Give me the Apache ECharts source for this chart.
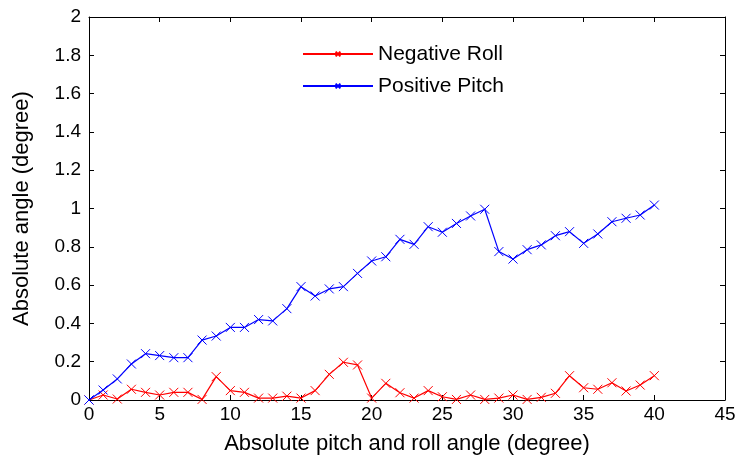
<!DOCTYPE html>
<html>
<head>
<meta charset="utf-8">
<script src="https://cdn.jsdelivr.net/npm/echarts@6/dist/echarts.min.js"></script>
<style>
  html, body { margin: 0; padding: 0; background: #fff; }
  #chart { width: 740px; height: 466px; }
</style>
</head>
<body>
<div id="chart"></div>
<script>
// Tilt angles (degree) at which the device was measured
const tiltAngles = [0,1,2,3,4,5,6,7,8,9,10,11,12,13,14,15,16,17,18,19,20,
  21,22,23,24,25,26,27,28,29,30,31,32,33,34,35,36,37,38,39,40];

// Absolute angle error (degree) for each tilt
const negativeRoll = [0,0.026,0.005,0.056,0.04,0.026,0.04,0.04,0.003,0.122,0.049,
  0.04,0.01,0.01,0.02,0.01,0.049,0.134,0.197,0.183,0.01,
  0.087,0.038,0.01,0.049,0.017,0.003,0.026,0.003,0.01,0.026,
  0.003,0.014,0.035,0.127,0.064,0.056,0.09,0.047,0.078,0.127];

const positivePitch = [0,0.052,0.11,0.188,0.242,0.232,0.221,0.221,0.313,0.334,0.379,
  0.379,0.42,0.413,0.477,0.592,0.543,0.58,0.592,0.661,0.726,
  0.748,0.839,0.813,0.905,0.876,0.922,0.961,0.996,0.775,0.736,
  0.785,0.81,0.858,0.879,0.818,0.867,0.931,0.949,0.966,1.018];

const seriesNames = ['Negative Roll', 'Positive Pitch'];
const seriesColors = ['#ff0000', '#0000ff'];

const crossMark = 'path://M0,0L10,10M10,0L0,10';
const font = 'Liberation Sans, Arial, sans-serif';

function toPairs(xs, ys) { return xs.map((x, i) => [x, ys[i]]); }

function makeSeries(name, color, values) {
  return {
    name: name,
    type: 'line',
    data: toPairs(tiltAngles, values),
    symbol: crossMark,
    symbolSize: 9,
    showSymbol: true,
    lineStyle: { color: color, width: 1.2 },
    itemStyle: { color: 'rgba(0,0,0,0)', borderColor: color, borderWidth: 1 },
    emphasis: { disabled: true },
    animation: false
  };
}

const chart = echarts.init(document.getElementById('chart'), null, { renderer: 'canvas' });

// Shared style for the box around the plot: black lines, inward ticks
const frameAxis = {
  axisLine: { show: true, onZero: false, lineStyle: { color: '#000', width: 1 } },
  axisTick: { show: true, inside: true, length: 5, lineStyle: { color: '#000' } },
  splitLine: { show: false }
};

chart.setOption({
  backgroundColor: '#ffffff',
  animation: false,
  grid: { left: 89, right: 15, top: 17, bottom: 66, containLabel: false },
  legend: {
    data: seriesNames,
    orient: 'vertical',
    left: 297,
    top: 38,
    itemWidth: 70,
    itemHeight: 6,
    itemGap: 10,
    textStyle: { fontFamily: font, fontSize: 21, color: '#000', lineHeight: 22, padding: [0, 0, 0, 0] },
    selectedMode: false
  },
  xAxis: [
    Object.assign({
      type: 'value', min: 0, max: 45, interval: 5, position: 'bottom',
      name: 'Absolute pitch and roll angle (degree)',
      nameLocation: 'middle', nameGap: 33,
      nameTextStyle: { fontFamily: font, fontSize: 22, color: '#000' },
      axisLabel: { fontFamily: font, fontSize: 19, color: '#000', margin: 5 }
    }, frameAxis),
    Object.assign({
      type: 'value', min: 0, max: 45, interval: 5, position: 'top',
      axisLabel: { show: false }
    }, frameAxis)
  ],
  yAxis: [
    Object.assign({
      type: 'value', min: 0, max: 2, interval: 0.2, position: 'left',
      name: 'Absolute angle (degree)',
      nameLocation: 'middle', nameGap: 56,
      nameTextStyle: { fontFamily: font, fontSize: 22, color: '#000' },
      axisLabel: { fontFamily: font, fontSize: 19, color: '#000', margin: 8 }
    }, frameAxis),
    Object.assign({
      type: 'value', min: 0, max: 2, interval: 0.2, position: 'right',
      axisLabel: { show: false }
    }, frameAxis)
  ],
  series: [
    makeSeries(seriesNames[0], seriesColors[0], negativeRoll),
    makeSeries(seriesNames[1], seriesColors[1], positivePitch)
  ]
});
</script>
</body>
</html>
